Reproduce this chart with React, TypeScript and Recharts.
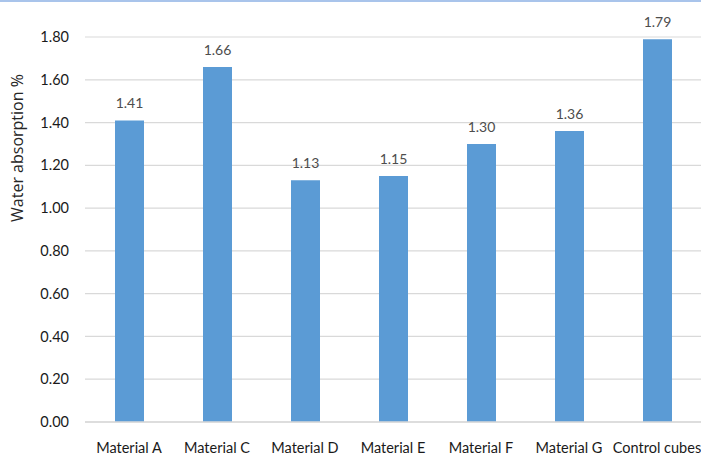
import React from "react";
import { BarChart, Bar, XAxis, YAxis, CartesianGrid, LabelList } from "recharts";

const categories = ["Material A", "Material C", "Material D", "Material E", "Material F", "Material G", "Control cubes"];
const absorption = [1.41, 1.66, 1.13, 1.15, 1.3, 1.36, 1.79];
const yTicks = [0, 0.2, 0.4, 0.6, 0.8, 1.0, 1.2, 1.4, 1.6, 1.8];

const data = categories.map((name, i) => ({ name, value: absorption[i] }));

const FONT = "Lato, 'Open Sans', sans-serif";

const YTitle = () => (
  <text
    x={17}
    y={146}
    transform="rotate(-90, 17, 146)"
    textAnchor="middle"
    dominantBaseline="central"
    fill="#262626"
    fontSize={16}
    fontFamily="'Open Sans', sans-serif"
  >
    Water absorption %
  </text>
);

export default function App() {
  return (
    <div
      style={{
        position: "absolute",
        left: 0,
        top: 0,
        width: 701,
        height: 461,
        background: "#fff",
        overflow: "hidden",
        borderTop: "2px solid #a9c4eb",
        boxSizing: "border-box",
        fontFamily: FONT,
      }}
    >
      <BarChart
        width={701}
        height={459}
        data={data}
        margin={{ top: 35, right: 0, bottom: 0, left: 0 }}
        barSize={29}
      >
        <CartesianGrid vertical={false} stroke="#d9d9d9" strokeWidth={1.2} />
        <XAxis
          dataKey="name"
          height={39}
          axisLine={{ stroke: "#d9d9d9", strokeWidth: 1.5 }}
          tickLine={false}
          interval={0}
          tick={{ fill: "#1a1a1a", fontSize: 14.5, fontFamily: FONT }}
          tickMargin={15}
        />
        <YAxis
          width={85}
          domain={[0, 1.8]}
          ticks={yTicks}
          axisLine={false}
          tickLine={false}
          tickMargin={10}
          tickFormatter={(v: number) => v.toFixed(2)}
          tick={{ fill: "#1a1a1a", fontSize: 14.5, fontFamily: FONT }}
          label={<YTitle />}
        />
        <Bar dataKey="value" fill="#5b9bd5" isAnimationActive={false}>
          <LabelList
            dataKey="value"
            position="top"
            offset={12}
            formatter={(v: number) => v.toFixed(2)}
            style={{ fill: "#4d4d4d", fontSize: 14, fontFamily: FONT }}
          />
        </Bar>
      </BarChart>
    </div>
  );
}
